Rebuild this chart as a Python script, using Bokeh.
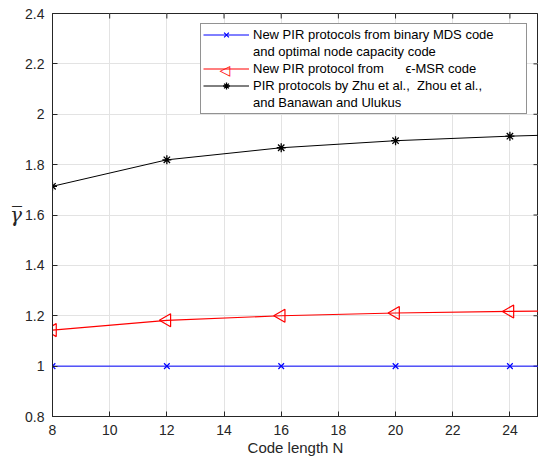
import numpy as np
from bokeh.plotting import figure
from bokeh.models import (Range1d, FixedTicker, Legend, LegendItem, ColumnDataSource)
from bokeh.embed import file_html
from bokeh.resources import INLINE

# ---- data ----
N = [8, 12, 16, 20, 24, 28]
mds_rate = [1.0, 1.0, 1.0, 1.0, 1.0, 1.0]
msr_rate = [1.143, 1.182, 1.200, 1.211, 1.217, 1.222]
prior_rate = [1.714, 1.819, 1.867, 1.895, 1.913, 1.926]
x_ticks = [8, 10, 12, 14, 16, 18, 20, 22, 24]
y_ticks = [0.8, 1.0, 1.2, 1.4, 1.6, 1.8, 2.0, 2.2, 2.4]
x_lim = (8, 25)
y_lim = (0.8, 2.4)
labels_mds = ["New PIR protocols from binary MDS code", "and optimal node capacity code"]
labels_msr = ["New PIR protocol from      \u03f5-MSR code"]
labels_prior = ["PIR protocols by Zhu et al.,  Zhou et al.,", "and Banawan and Ulukus"]
x_label = "Code length N"
y_label = "\u03b3\u0305"

FONT = "Liberation Sans"
AX = "#262626"
GRID = "#e3e3e3"

p = figure(width=538, height=460, output_backend="svg", toolbar_location=None,
           x_range=Range1d(*x_lim), y_range=Range1d(*y_lim),
           min_border_left=52, min_border_top=13, min_border_right=0, min_border_bottom=44,
           background_fill_color="white", border_fill_color="white")
p.outline_line_color = AX
p.outline_line_width = 1

for ax in (p.xaxis[0], p.yaxis[0]):
    ax.major_tick_in = 5
    ax.major_tick_out = 0
    ax.minor_tick_line_color = None
    ax.axis_line_color = AX
    ax.major_tick_line_color = AX
    ax.major_label_text_font = FONT
    ax.major_label_text_font_size = "14px"
    ax.major_label_text_color = AX
    ax.major_label_standoff = 8
p.xaxis[0].ticker = FixedTicker(ticks=x_ticks)
p.yaxis[0].ticker = FixedTicker(ticks=y_ticks)
p.yaxis[0].major_label_overrides = {t: ("%g" % t) for t in y_ticks}
p.xaxis[0].axis_label = x_label
p.xaxis[0].axis_label_text_font = FONT
p.xaxis[0].axis_label_text_font_size = "15px"
p.xaxis[0].axis_label_text_font_style = "normal"
p.xaxis[0].axis_label_text_color = AX
p.xaxis[0].axis_label_standoff = 1

# y label: gamma with overline, upright, left of the tick labels
ya = p.yaxis[0]
ya.axis_label = y_label
ya.axis_label_text_font = "DejaVu Serif"
ya.axis_label_text_font_style = "italic"
ya.axis_label_text_font_size = "20px"
ya.axis_label_text_color = AX
ya.axis_label_standoff = 0
try:
    ya.axis_label_orientation = "horizontal"
except Exception:
    pass

p.xgrid.ticker = FixedTicker(ticks=x_ticks)
p.ygrid.ticker = FixedTicker(ticks=y_ticks)
p.grid.grid_line_color = GRID
p.grid.grid_line_width = 1

# inward tick marks on the top and right edges of the box
p.scatter(x=x_ticks, y=[y_lim[1]] * len(x_ticks), marker="dash", angle=np.pi / 2, size=10,
          line_color=AX, line_width=1)
p.scatter(x=[x_lim[1]] * len(y_ticks), y=y_ticks, marker="dash", size=10,
          line_color=AX, line_width=1)

src = ColumnDataSource(dict(N=N, mds=mds_rate, msr=msr_rate, prior=prior_rate))

l1 = p.line("N", "mds", source=src, line_color="#0000ff", line_width=1)
m1 = p.scatter("N", "mds", source=src, marker="x", size=8, line_color="#0000ff", line_width=1.2)
l2 = p.line("N", "msr", source=src, line_color="#ff0000", line_width=1.2)
m2 = p.scatter("N", "msr", source=src, marker="triangle", angle=np.pi / 2, size=13,
               line_color="#ff0000", fill_color=None, line_width=1.2)
l3 = p.line("N", "prior", source=src, line_color="#000000", line_width=1)
m3 = p.scatter("N", "prior", source=src, marker="asterisk", size=9, line_color="#000000", line_width=1.3)

blank = p.line(x=[], y=[], line_alpha=0)

items = [
    LegendItem(label=labels_mds[0], renderers=[l1, m1]),
    LegendItem(label=labels_mds[1], renderers=[blank]),
    LegendItem(label=labels_msr[0], renderers=[l2]),
    LegendItem(label=labels_prior[0], renderers=[l3, m3]),
    LegendItem(label=labels_prior[1], renderers=[blank]),
]
LEG_X, LEG_Y, PAD, GW, LH = 148, 302, 2, 46, 17
legend = Legend(items=items, location=(LEG_X, LEG_Y), orientation="vertical",
                glyph_width=GW, glyph_height=LH, label_height=LH, label_width=271,
                label_standoff=4, spacing=0, padding=PAD, margin=0,
                label_text_font=FONT, label_text_font_size="13px", label_text_color="#000000",
                border_line_color=AX, border_line_width=1,
                background_fill_color="white", background_fill_alpha=1)
p.add_layout(legend, "center")

# left-pointing triangle marker for the red entry: a tiny transparent legend drawn
# on top of the main one, whose only "label" is the triangle symbol
TRI_FS = 14
TRI_W = 0.77 * TRI_FS
leg_h = 5 * LH + 2 * PAD
row_center = LEG_Y + leg_h - PAD - 2.5 * LH
tri_legend = Legend(items=[LegendItem(label="\u25c1", renderers=[blank])],
                    location=(LEG_X + PAD + GW / 2 - TRI_W / 2, row_center - LH / 2),
                    glyph_width=0, glyph_height=LH, label_height=LH, label_width=0,
                    label_standoff=0, spacing=0, padding=0, margin=0,
                    label_text_font="DejaVu Sans", label_text_font_size="%dpx" % TRI_FS,
                    label_text_color="#ff0000",
                    border_line_color=None, background_fill_alpha=0)
p.add_layout(tri_legend, "center")

open("out.html", "w").write(file_html(p, INLINE))
